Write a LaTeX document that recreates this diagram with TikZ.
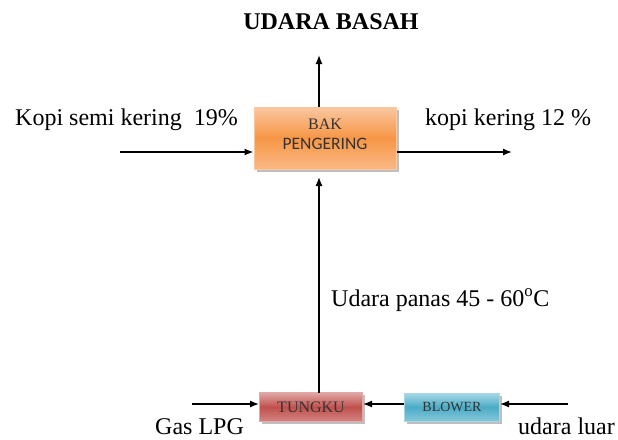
\documentclass[tikz,border=0pt]{standalone}
\usepackage{fontspec}
\setmainfont{Liberation Serif}
\newfontfamily\calib{Carlito}
\usetikzlibrary{arrows.meta,shadows}
\begin{document}
\begin{tikzpicture}[x=1pt,y=-1pt,
  conn/.style={line width=1.3pt,-{Latex[length=9pt,width=7pt]}},
  lbl/.style={font=\fontsize{24}{26}\selectfont,inner sep=0pt,anchor=base west},
  boxtext/.style={text=black!80}
]
\useasboundingbox (0,0) rectangle (618,439);
\definecolor{org}{HTML}{F79646}
\definecolor{orglt}{HTML}{FAC8A0}
\definecolor{rd}{HTML}{C0504D}
\definecolor{rdlt}{HTML}{E0A8A6}
\definecolor{bl}{HTML}{4BACC6}
\definecolor{bllt}{HTML}{A8D8E6}
\node[rectangle,line width=1pt,inner sep=0pt,minimum width=142pt,minimum height=62pt,
  draw=orglt,top color=orglt,bottom color=orglt!70!org,middle color=org,
  drop shadow={shadow xshift=2.5pt,shadow yshift=-2.5pt,fill=black!50}]
  (bak) at (325,138) {};
\node[inner sep=0pt,boxtext,font=\fontsize{16}{18}\selectfont] (bakt) at (325,124) {BAK};
\node[inner sep=0pt,boxtext,font=\calib\fontsize{17.5}{19}\selectfont] (pengt) at (325,144) {PENGERING};
\node[rectangle,line width=1pt,inner sep=0pt,minimum width=103pt,minimum height=29pt,
  draw=rdlt,top color=rdlt,bottom color=rdlt!60!rd,middle color=rd,boxtext,
  drop shadow={shadow xshift=2.5pt,shadow yshift=-2.5pt,fill=black!50}]
  (tungku) at (311,407) {\fontsize{16}{18}\selectfont TUNGKU};
\node[rectangle,line width=1pt,inner sep=0pt,minimum width=95pt,minimum height=28pt,
  draw=bllt,top color=bllt,bottom color=bllt!60!bl,middle color=bl,boxtext,
  drop shadow={shadow xshift=2.5pt,shadow yshift=-2.5pt,fill=black!50}]
  (blower) at (452,407) {\fontsize{14}{16}\selectfont BLOWER};
\node[font=\bfseries\fontsize{24}{26}\selectfont,inner sep=0pt] (ub) at (331,22) {UDARA BASAH};
\coordinate (topend) at (319,55);
\coordinate (leftstart) at (120,152);
\coordinate (rightend) at (512,152);
\coordinate (gasstart) at (192,404);
\coordinate (luarstart) at (568,404);
\node[lbl] (kopi1) at (15,125) {Kopi semi kering\ \ 19\%};
\node[lbl] (kopi2) at (425,125) {kopi kering 12 \%};
\node[lbl] (panas) at (331,306) {Udara panas 45 - 60\textsuperscript{o}C};
\node[lbl] (gas) at (155,434) {Gas LPG};
\node[lbl] (luar) at (518,434) {udara luar};
\draw[conn] (319,107) -- (topend);
\draw[conn] (leftstart) -- (leftstart -| bak.west);
\draw[conn] (rightend -| bak.east) -- (rightend);
\draw[conn] (319,393) -- (319,177);
\draw[conn] (gasstart) -- (gasstart -| tungku.west);
\draw[conn] (blower.west |- gasstart) -- (tungku.east |- gasstart);
\draw[conn] (luarstart) -- (luarstart -| blower.east);
\end{tikzpicture}
\end{document}
